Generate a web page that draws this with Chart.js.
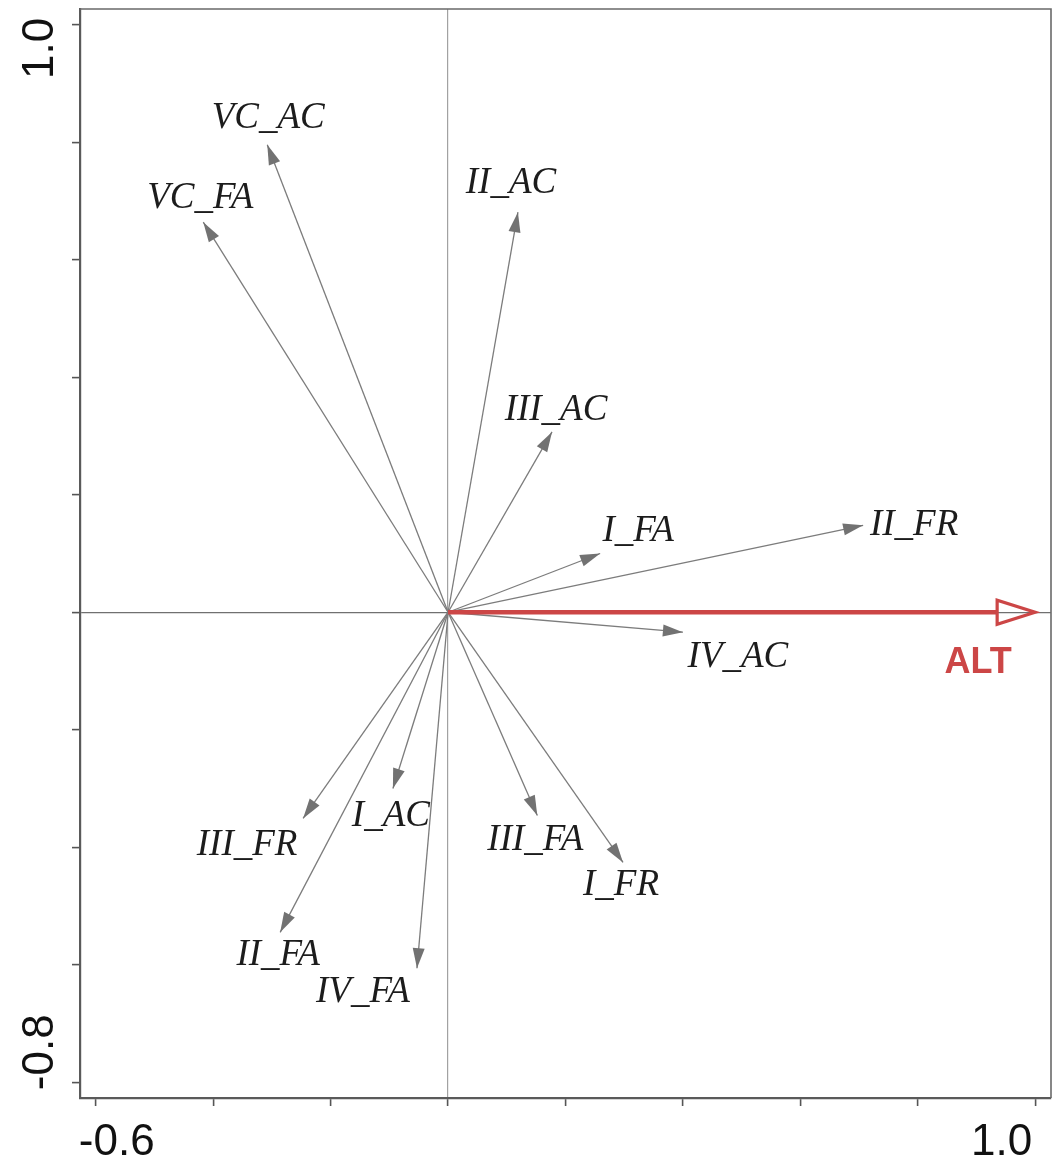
<!DOCTYPE html>
<html>
<head>
<meta charset="utf-8">
<title>RDA biplot</title>
<script src="https://cdn.jsdelivr.net/npm/chart.js@4.4.1/dist/chart.umd.min.js"></script>
<style>
  html, body { margin: 0; padding: 0; background: #ffffff; }
  #wrap { width: 1053px; height: 1160px; }
</style>
</head>
<body>
<div id="wrap"><canvas id="biplot" width="1053" height="1160"></canvas></div>
<script>
// Species scores (arrow tips) on the first two ordination axes
const speciesNames = ['VC_AC', 'VC_FA', 'II_AC', 'III_AC', 'I_FA', 'II_FR', 'IV_AC',
                      'III_FR', 'I_AC', 'III_FA', 'I_FR', 'II_FA', 'IV_FA'];
const speciesAxis1 = [-0.308, -0.417, 0.119, 0.177, 0.259, 0.707, 0.400,
                      -0.247, -0.094, 0.152, 0.298, -0.286, -0.053];
const speciesAxis2 = [0.796, 0.664, 0.681, 0.307, 0.100, 0.148, -0.034,
                      -0.351, -0.300, -0.346, -0.426, -0.545, -0.606];

// Environmental variable
const envNames = ['ALT'];
const envAxis1 = [1.0];
const envAxis2 = [0.0];

// Axis ticks and the tick values that carry a printed label
const xTickValues = [-0.6, -0.4, -0.2, 0, 0.2, 0.4, 0.6, 0.8, 1.0];
const yTickValues = [-0.8, -0.6, -0.4, -0.2, 0, 0.2, 0.4, 0.6, 0.8, 1.0];
const xTickLabels = ['-0.6', '1.0'];
const yTickLabels = ['-0.8', '1.0'];

// Label placement relative to each arrow tip, in pixels: [dx, baseline dy]
const labelNudge = {
  'VC_AC': [1, -17], 'VC_FA': [-3, -14], 'II_AC': [-7, -19], 'III_AC': [4, -12],
  'I_FA': [38, -13], 'II_FR': [51, 10], 'IV_AC': [55, 35], 'III_FR': [-56, 37],
  'I_AC': [-2, 38], 'III_FA': [-2, 35], 'I_FR': [-2, 33], 'II_FA': [-2, 33],
  'IV_FA': [-54, 34], 'ALT': [-57, 61]
};

const SPECIES_COLOR = '#7c7c7c';
const ENV_COLOR = '#cc4646';
const LABEL_FONT = 'italic 37px "Liberation Serif", "Times New Roman", serif';
const TICK_FONT = '44px "Liberation Sans", Arial, sans-serif';

const datasets = [];
speciesNames.forEach((name, i) => {
  datasets.push({
    label: name,
    kind: 'species',
    data: [{ x: 0, y: 0 }, { x: speciesAxis1[i], y: speciesAxis2[i] }],
    showLine: true,
    borderColor: SPECIES_COLOR,
    borderWidth: 1.3,
    pointRadius: 0,
    pointHoverRadius: 0
  });
});
envNames.forEach((name, i) => {
  datasets.push({
    label: name,
    kind: 'env',
    data: [{ x: 0, y: 0 }, { x: envAxis1[i], y: envAxis2[i] }],
    showLine: false,
    borderColor: ENV_COLOR,
    pointRadius: 0,
    pointHoverRadius: 0
  });
});

// Arrowheads, the environmental vector, labels, frame and axis numbers
const biplotDecor = {
  id: 'biplotDecor',
  afterDatasetsDraw(chart) {
    const ctx = chart.ctx;
    const area = chart.chartArea;
    ctx.save();
    ctx.beginPath();
    ctx.rect(area.left, area.top, area.right - area.left, area.bottom - area.top);
    ctx.clip();

    chart.data.datasets.forEach((ds, i) => {
      const pts = chart.getDatasetMeta(i).data;
      const p0 = pts[0], p1 = pts[1];
      const ang = Math.atan2(p1.y - p0.y, p1.x - p0.x);
      const c = Math.cos(ang), s = Math.sin(ang);
      if (ds.kind === 'species') {
        const L = 20, W = 6;
        const bx = p1.x - L * c, by = p1.y - L * s;
        ctx.beginPath();
        ctx.moveTo(p1.x, p1.y);
        ctx.lineTo(bx - W * s, by + W * c);
        ctx.lineTo(bx + W * s, by - W * c);
        ctx.closePath();
        ctx.fillStyle = '#727272';
        ctx.fill();
      } else {
        const L = 38, W = 12;
        const bx = p1.x - L * c, by = p1.y - L * s;
        ctx.beginPath();
        ctx.moveTo(p0.x, p0.y);
        ctx.lineTo(bx, by);
        ctx.strokeStyle = ENV_COLOR;
        ctx.lineWidth = 4.5;
        ctx.stroke();
        ctx.beginPath();
        ctx.moveTo(p1.x, p1.y);
        ctx.lineTo(bx - W * s, by + W * c);
        ctx.lineTo(bx + W * s, by - W * c);
        ctx.closePath();
        ctx.lineWidth = 3.2;
        ctx.lineJoin = 'miter';
        ctx.stroke();
      }
    });
    ctx.restore();

    // labels
    ctx.save();
    ctx.textAlign = 'center';
    ctx.textBaseline = 'alphabetic';
    chart.data.datasets.forEach((ds, i) => {
      const p1 = chart.getDatasetMeta(i).data[1];
      const nudge = labelNudge[ds.label] || [0, 0];
      if (ds.kind === 'env') {
        ctx.font = 'bold 36px "Liberation Sans", Arial, sans-serif';
        ctx.fillStyle = ENV_COLOR;
      } else {
        ctx.font = LABEL_FONT;
        ctx.fillStyle = '#1c1c1c';
      }
      ctx.fillText(ds.label, p1.x + nudge[0], p1.y + nudge[1]);
    });
    ctx.restore();
  },
  afterDraw(chart) {
    const ctx = chart.ctx;
    const area = chart.chartArea;
    const xs = chart.scales.x, ys = chart.scales.y;
    ctx.save();
    // top and right frame
    ctx.strokeStyle = '#6a6a6a';
    ctx.lineWidth = 1.6;
    ctx.beginPath();
    ctx.moveTo(area.left, area.top);
    ctx.lineTo(area.right, area.top);
    ctx.lineTo(area.right, area.bottom);
    ctx.stroke();

    // axis numbers
    ctx.font = TICK_FONT;
    ctx.fillStyle = '#111111';
    ctx.textBaseline = 'alphabetic';
    const xFirst = parseFloat(xTickLabels[0]);
    const xLast = parseFloat(xTickLabels[xTickLabels.length - 1]);
    ctx.textAlign = 'left';
    ctx.fillText(xTickLabels[0], xs.getPixelForValue(xFirst) - 17, area.bottom + 57);
    ctx.textAlign = 'right';
    ctx.fillText(xTickLabels[xTickLabels.length - 1], xs.getPixelForValue(xLast) - 3, area.bottom + 57);

    const yFirst = parseFloat(yTickLabels[0]);
    const yLast = parseFloat(yTickLabels[yTickLabels.length - 1]);
    ctx.save();
    ctx.translate(53, ys.getPixelForValue(yFirst) + 8);
    ctx.rotate(-Math.PI / 2);
    ctx.textAlign = 'left';
    ctx.fillText(yTickLabels[0], 0, 0);
    ctx.restore();
    ctx.save();
    ctx.translate(53, ys.getPixelForValue(yLast) - 7);
    ctx.rotate(-Math.PI / 2);
    ctx.textAlign = 'right';
    ctx.fillText(yTickLabels[yTickLabels.length - 1], 0, 0);
    ctx.restore();
    ctx.restore();
  }
};

const zeroLine = (color) => (c) => (c.tick && c.tick.value === 0 ? color : 'rgba(0,0,0,0)');

new Chart(document.getElementById('biplot'), {
  type: 'scatter',
  data: { datasets },
  plugins: [biplotDecor],
  options: {
    responsive: false,
    animation: false,
    events: [],
    layout: { padding: { top: 9, right: 2, left: 0, bottom: 0 } },
    plugins: { legend: { display: false }, tooltip: { enabled: false } },
    scales: {
      x: {
        type: 'linear',
        min: -0.627,
        max: 1.027,
        afterBuildTicks: (scale) => { scale.ticks = xTickValues.map(v => ({ value: v })); },
        afterFit: (scale) => { scale.height = 62; },
        ticks: { display: false },
        grid: {
          color: zeroLine('#a2a2a2'),
          lineWidth: 1.2,
          tickColor: '#555555',
          tickLength: 8,
          tickWidth: 1.6
        },
        border: { display: true, color: '#5a5a5a', width: 2.2 }
      },
      y: {
        type: 'linear',
        min: -0.827,
        max: 1.027,
        afterBuildTicks: (scale) => { scale.ticks = yTickValues.map(v => ({ value: v })); },
        afterFit: (scale) => { scale.width = 80; },
        ticks: { display: false },
        grid: {
          color: zeroLine('#707070'),
          lineWidth: 1.2,
          tickColor: '#555555',
          tickLength: 8,
          tickWidth: 1.6
        },
        border: { display: true, color: '#5a5a5a', width: 2.2 }
      }
    }
  }
});
</script>
</body>
</html>
